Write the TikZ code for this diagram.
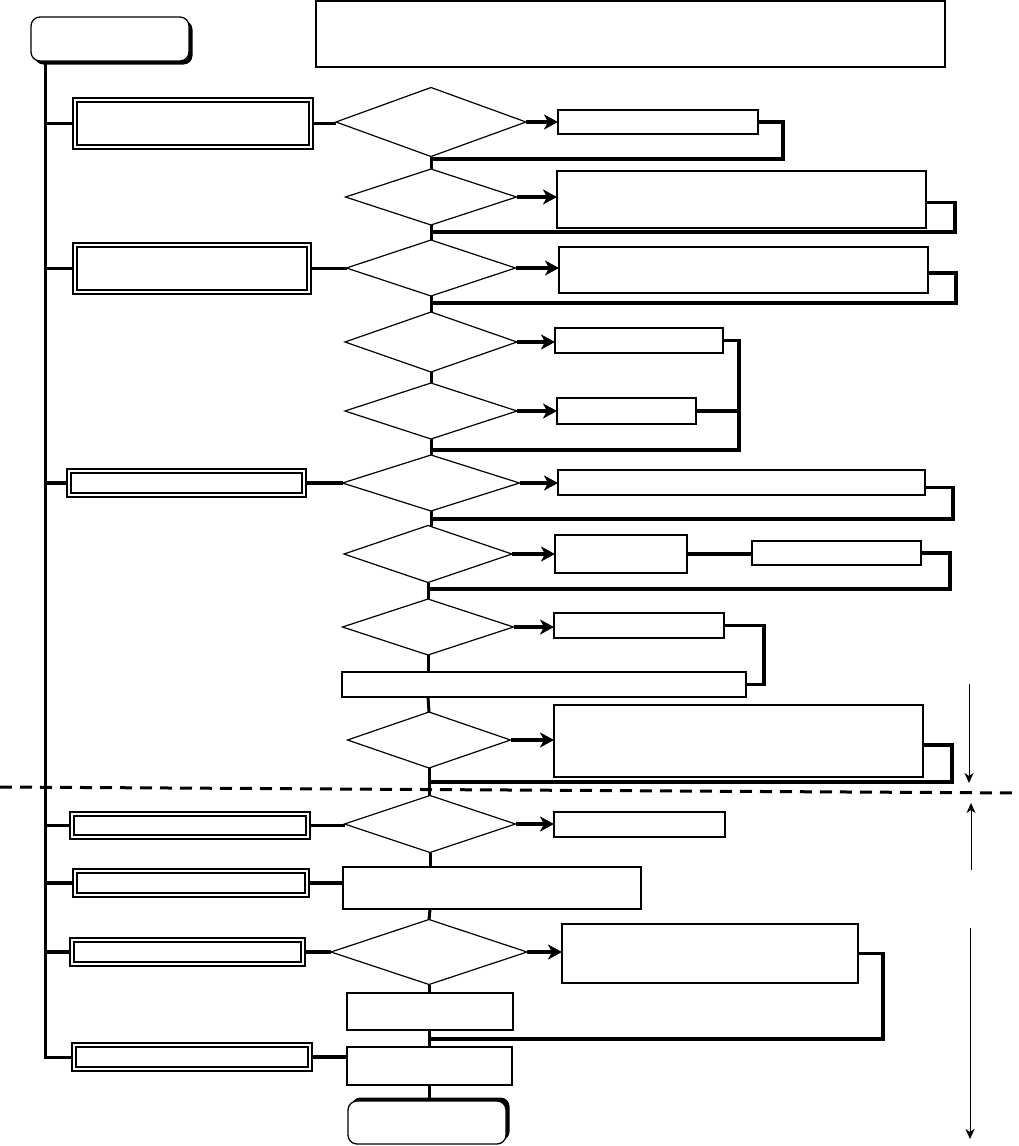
\documentclass[tikz,border=0pt]{standalone}
\usetikzlibrary{shapes.geometric,arrows.meta,fit,shadows,calc}
\begin{document}
\begin{tikzpicture}[x=1pt,y=-1pt,
  box/.style={draw,line width=1.3pt,inner sep=0pt,outer sep=0pt,fill=white},
  dbox/.style={draw,line width=1.3pt,inner sep=0pt,outer sep=0pt,fill=white},
  inner/.style={line width=2.3pt},
  dia/.style={draw,diamond,line width=1.2pt,inner sep=0pt,outer sep=0pt,fill=white},
  conn/.style={line width=3.5pt},
  spine/.style={line width=3pt},
  arr/.style={line width=3.5pt,-{Stealth[length=14pt,width=15pt,inset=4pt]}},
  thinarr/.style={line width=1pt,-{Stealth[length=10pt,width=9pt,inset=3pt]}},
  term/.style={draw,line width=1.3pt,rounded corners=9pt,fill=white,inner sep=0pt,outer sep=0pt}
]
\useasboundingbox (0,0) rectangle (1018,1146);

% terminals and title
\node[term,fit={(31,17) (189,61)},drop shadow={shadow xshift=3.5pt,shadow yshift=-3.5pt,fill=black,opacity=1}] (start) {};
\node[term,fit={(348,1101) (506,1144)},drop shadow={shadow xshift=3.5pt,shadow yshift=3.5pt,fill=black,opacity=1}] (end) {};
\node[box,line width=1.5pt,fit={(316,1) (945,67)}] (title) {};

% left double boxes
\node[dbox,fit={(73,98) (313,149)}] (L1) {};
\node[dbox,fit={(73,243) (311,294)}] (L2) {};
\node[dbox,fit={(67,469) (306,497)}] (L3) {};
\node[dbox,fit={(70,812) (310,839)}] (L4) {};
\node[dbox,fit={(73,869) (309,897)}] (L5) {};
\node[dbox,fit={(70,938) (305,966)}] (L6) {};
\node[dbox,fit={(72,1043) (312,1071)}] (L7) {};
\foreach \n in {L1,L2,L3,L4,L5,L6,L7}{
  \draw[inner] ([shift={(4,4)}]\n.north west) rectangle ([shift={(-4,-4)}]\n.south east);}

% diamonds
\node[dia,minimum width=190pt,minimum height=69pt] (D1) at (431,122) {};
\node[dia,minimum width=171pt,minimum height=56pt] (D2) at (431,197) {};
\node[dia,minimum width=169pt,minimum height=56pt] (D3) at (431,268) {};
\node[dia,minimum width=172pt,minimum height=60pt] (D4) at (431,342) {};
\node[dia,minimum width=172pt,minimum height=56pt] (D5) at (431,411) {};
\node[dia,minimum width=177pt,minimum height=56pt] (D6) at (431,483) {};
\node[dia,minimum width=168pt,minimum height=57pt] (D7) at (428,554) {};
\node[dia,minimum width=171pt,minimum height=56pt] (D8) at (428,627) {};
\node[dia,minimum width=163pt,minimum height=56pt] (D9) at (429,740) {};
\node[dia,minimum width=171pt,minimum height=57pt] (D10) at (430,824) {};
\node[dia,minimum width=196pt,minimum height=65pt] (D11) at (429,952) {};

% right boxes
\node[box,fit={(558,110) (758,134)}] (R1) {};
\node[box,fit={(557,171) (926,228)}] (R2) {};
\node[box,fit={(559,247) (928,293)}] (R3) {};
\node[box,fit={(555,328) (723,353)}] (R4) {};
\node[box,fit={(557,398) (696,424)}] (R5) {};
\node[box,fit={(558,470) (925,495)}] (R6) {};
\node[box,fit={(555,535) (687,573)}] (R7) {};
\node[box,fit={(752,541) (921,565)}] (R8) {};
\node[box,fit={(554,613) (724,638)}] (R9) {};
\node[box,fit={(342,672) (746,697)}] (R10) {};
\node[box,fit={(554,705) (923,777)}] (R11) {};
\node[box,fit={(554,812) (725,837)}] (R12) {};
\node[box,fit={(343,867) (641,909)}] (R13) {};
\node[box,fit={(562,924) (858,983)}] (R14) {};
\node[box,fit={(347,993) (513,1030)}] (R15) {};
\node[box,fit={(347,1047) (512,1085)}] (R16) {};

% junction coordinates on the spine
\coordinate (j1) at (431,159);
\coordinate (j2) at (431,232);
\coordinate (j3) at (431,303);
\coordinate (j5) at (431,450);
\coordinate (j6) at (431,519);
\coordinate (j7) at (428,589);
\coordinate (j9) at (429,782);
\coordinate (j11) at (429,1039);
\coordinate (busB) at (45,1057);

% left bus
\draw[spine] (start.south -| busB) -- (busB) -- (L7.west |- busB);
\foreach \n in {L1,L2,L3,L4,L5,L6}{\draw[conn] (busB |- \n.west) -- (\n.west);}

% left boxes to the main column
\draw[conn] (L1.east) -- (L1.east -| D1.west);
\draw[conn] (L2.east) -- (L2.east -| D3.west);
\draw[conn] (L3.east) -- (L3.east -| D6.west);
\draw[conn] (L4.east) -- (L4.east -| D10.west);
\draw[conn] (L5.east) -- (L5.east -| R13.west);
\draw[conn] (L6.east) -- (L6.east -| D11.west);
\draw[conn] (L7.east) -- (L7.east -| R16.west);

% spine
\draw[spine] (D1.south) -- (D2.north);
\draw[spine] (D2.south) -- (D3.north);
\draw[spine] (D3.south) -- (D4.north);
\draw[spine] (D4.south) -- (D5.north);
\draw[spine] (D5.south) -- (D6.north);
\draw[spine] (D6.south) -- (D6.south |- D7.north);
\draw[spine] (D7.south) -- (D8.north);
\draw[spine] (D8.south) -- (D8.south |- R10.north);
\draw[spine] (D8.south |- R10.south) -- (D9.north);
\draw[spine] (D9.south) -- (D9.south |- D10.north);
\draw[spine] (D10.south) -- (D10.south |- R13.north);
\draw[spine] (D10.south |- R13.south) -- (D11.north);
\draw[spine] (D11.south) -- (D11.south |- R15.north);
\draw[spine] (D11.south |- R15.south) -- (D11.south |- R16.north);
\draw[spine] (D11.south |- R16.south) -- (D11.south |- end.north);

% arrows from diamonds
\draw[arr] (D1.east) -- (D1.east -| R1.west);
\draw[arr] (D2.east) -- (D2.east -| R2.west);
\draw[arr] (D3.east) -- (D3.east -| R3.west);
\draw[arr] (D4.east) -- (D4.east -| R4.west);
\draw[arr] (D5.east) -- (D5.east -| R5.west);
\draw[arr] (D6.east) -- (D6.east -| R6.west);
\draw[arr] (D7.east) -- (D7.east -| R7.west);
\draw[arr] (D8.east) -- (D8.east -| R9.west);
\draw[arr] (D9.east) -- (D9.east -| R11.west);
\draw[arr] (D10.east) -- (D10.east -| R12.west);
\draw[arr] (D11.east) -- (D11.east -| R14.west);

% return loops
\draw[conn] (R1.east) -- ++(25,0) |- (j1);
\draw[conn] ($(R2.east)+(0,3)$) -- ++(29,0) |- (j2);
\draw[conn] ($(R3.east)+(0,3)$) -- ++(28,0) |- (j3);
\draw[conn] (R4.east) -- ++(16,0) |- (j5);
\draw[conn] (R5.east) -- ++(43,0);
\draw[conn] ($(R6.east)+(0,5)$) -- ++(28,0) |- (j6);
\draw[conn] (R7.east) -- (R7.east -| R8.west);
\draw[conn] (R8.east) -- ++(29,0) |- (j7);
\draw[conn] (R9.east) -- ++(40,0) |- (R10.east);
\draw[conn] ($(R11.east)+(0,4)$) -- ++(29,0) |- (j9);
\draw[conn] (R14.east) -- ++(25,0) |- (j11);

% dashed divider
\draw[line width=3pt,dash pattern=on 12pt off 8pt] (0,787) -- (1018,793);

% right-hand range arrows
\coordinate (a1s) at (969,684);
\coordinate (a1e) at (969,783);
\coordinate (a2s) at (971,870);
\coordinate (a2e) at (971,803);
\coordinate (a3s) at (970,928);
\coordinate (a3e) at (970,1139);
\draw[thinarr] (a1s) -- (a1e);
\draw[thinarr] (a2s) -- (a2e);
\draw[thinarr] (a3s) -- (a3e);
\end{tikzpicture}
\end{document}
